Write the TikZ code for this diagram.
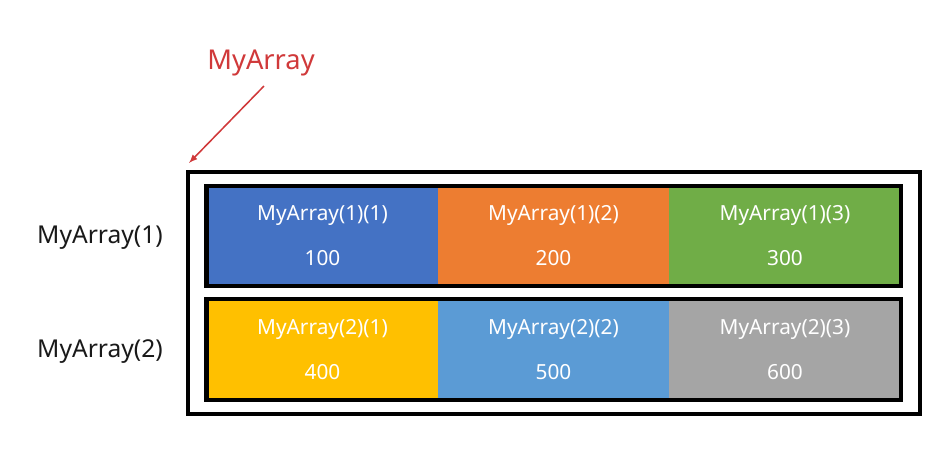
\documentclass[tikz,border=0pt]{standalone}
\usepackage{fontspec}
\setmainfont{Noto Sans}
\usepackage{tikz}
\usetikzlibrary{calc,arrows}

\definecolor{cellblue}{HTML}{4472C4}
\definecolor{cellorange}{HTML}{ED7D31}
\definecolor{cellgreen}{HTML}{70AD47}
\definecolor{cellyellow}{HTML}{FFC000}
\definecolor{celllight}{HTML}{5B9BD5}
\definecolor{cellgray}{HTML}{A5A5A5}
\definecolor{titlered}{HTML}{D0393A}

\tikzset{
  cell/.style={rectangle,inner sep=0pt,minimum width=5.78cm,minimum height=2.5cm,
    text=white,align=center,font=\fontsize{14.8}{32}\selectfont},
  rowlbl/.style={font=\fontsize{17.5}{20}\selectfont,text=black!90},
  frame/.style={draw=black,line width=3pt}
}

\begin{document}
\begin{tikzpicture}[x=0.025cm,y=-0.025cm]
              \useasboundingbox (0,0) rectangle (940,451);
              % outer box
              \node[frame,rectangle,minimum width=18.3cm,minimum height=6.05cm](outer)at(554,293){};
              % first row
              \node[cell,fill=cellblue](c11)at(322.5,236){MyArray(1)(1)\\100};
              \node[cell,fill=cellorange](c12)at(553.5,236){MyArray(1)(2)\\200};
              \node[cell,fill=cellgreen](c13)at(785,236){MyArray(1)(3)\\300};
              \draw[frame] (c11.north west) rectangle (c13.south east);
              % second row
              \node[cell,fill=cellyellow](c21)at(322.5,349.5){MyArray(2)(1)\\400};
              \node[cell,fill=celllight](c22)at(553.5,349.5){MyArray(2)(2)\\500};
              \node[cell,fill=cellgray](c23)at(785,349.5){MyArray(2)(3)\\600};
              \draw[frame] (c21.north west) rectangle (c23.south east);
              % labels
              \node[rowlbl](r1)at(100,238){MyArray(1)};
              \node[rowlbl](r2)at(100,352){MyArray(2)};
              \node[font=\fontsize{19.4}{22}\selectfont,text=titlered](title)at(261,63){MyArray};
              \coordinate (tip) at (189,163);
              \draw[-latex,titlered,line width=1.1pt] ($(title.south)+(3,5)$)--(tip);
            \end{tikzpicture}
\end{document}
